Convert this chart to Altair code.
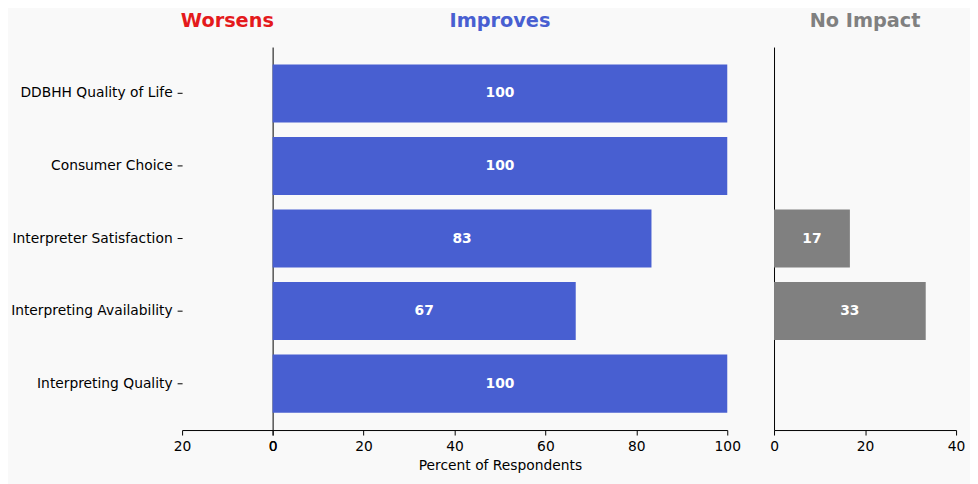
import altair as alt
import pandas as pd

categories = [
    "DDBHH Quality of Life",
    "Consumer Choice",
    "Interpreter Satisfaction",
    "Interpreting Availability",
    "Interpreting Quality",
]
worsens = [0, 0, 0, 0, 0]
improves = [100, 100, 83.33, 66.67, 100]
no_impact = [0, 0, 16.67, 33.33, 0]

df = pd.DataFrame({
    "category": categories,
    "worsens": worsens,
    "improves": improves,
    "no_impact": no_impact,
})

FONT = "DejaVu Sans"
BLUE = "#485fd1"
RED = "#e41a1c"
GRAY = "#808080"
BG = "#f9f9f9"
FS = 13.9

yscale = alt.Scale(domain=categories, paddingInner=0.2, paddingOuter=0.24)


def ttl(text, color):
    return alt.TitleParams(text, color=color, fontSize=19.4, fontWeight="bold",
                           font=FONT, anchor="middle", offset=16)


def xaxis(values, title=None):
    kw = dict(values=values, grid=False, domainColor="black", tickColor="black",
              tickSize=5, labelFontSize=FS, labelFont=FONT, labelColor="black",
              labelPadding=5, labelFlush=False, labelOverlap=False)
    if title:
        kw.update(title=title, titleFont=FONT, titleFontSize=FS, titleFontWeight="normal",
                  titleColor="black", titlePadding=5)
    else:
        kw.update(title=None)
    return alt.Axis(**kw)


base = alt.Chart(df)

left = base.mark_bar(color=RED).encode(
    y=alt.Y("category:N", sort=categories, scale=yscale,
            axis=alt.Axis(title=None, domain=False, ticks=True, tickSize=5,
                          tickColor="black", labelPadding=5, labelFontSize=FS,
                          labelFont=FONT, labelColor="black", grid=False)),
    x=alt.X("worsens:Q", scale=alt.Scale(domain=[0, 20], reverse=True, nice=False),
            axis=xaxis([0, 20])),
).properties(width=91, height=385, title=ttl("Worsens", RED))

ynolab = alt.Axis(title=None, labels=False, ticks=False, domain=True,
                  domainColor="black", grid=False)

mid_bars = base.mark_bar(color=BLUE).encode(
    y=alt.Y("category:N", sort=categories, scale=yscale, axis=ynolab),
    x=alt.X("improves:Q", scale=alt.Scale(domain=[0, 100], nice=False),
            axis=xaxis([0, 20, 40, 60, 80, 100], "Percent of Respondents")),
)
mid_text = base.transform_calculate(
    m="datum.improves / 2", lab="format(datum.improves, '.0f')"
).mark_text(color="white", fontWeight="bold", fontSize=FS, font=FONT).encode(
    y=alt.Y("category:N", sort=categories, scale=yscale),
    x=alt.X("m:Q"),
    text="lab:N",
)
middle = alt.layer(mid_bars, mid_text).properties(
    width=457, height=385, title=ttl("Improves", BLUE))

spacer = base.mark_point(opacity=0).encode(
    x=alt.value(0), y=alt.value(0)
).properties(width=47, height=385)

r_bars = base.mark_bar(color=GRAY).encode(
    y=alt.Y("category:N", sort=categories, scale=yscale, axis=ynolab),
    x=alt.X("no_impact:Q", scale=alt.Scale(domain=[0, 40], nice=False),
            axis=xaxis([0, 20, 40])),
)
r_text = base.transform_filter("datum.no_impact > 0").transform_calculate(
    m="datum.no_impact / 2", lab="format(datum.no_impact, '.0f')"
).mark_text(color="white", fontWeight="bold", fontSize=FS, font=FONT).encode(
    y=alt.Y("category:N", sort=categories, scale=yscale),
    x=alt.X("m:Q"),
    text="lab:N",
)
right = alt.layer(r_bars, r_text).properties(
    width=183, height=385, title=ttl("No Impact", GRAY))

chart = alt.hconcat(left, middle, spacer, right, spacing=0, bounds="flush").resolve_scale(
    y="shared"
).configure(
    background=BG,
    padding={"left": 2, "top": 1, "right": 5, "bottom": 12},
).configure_view(stroke=None)

chart.save("out.html", embed_options={"renderer": "svg", "actions": False})
